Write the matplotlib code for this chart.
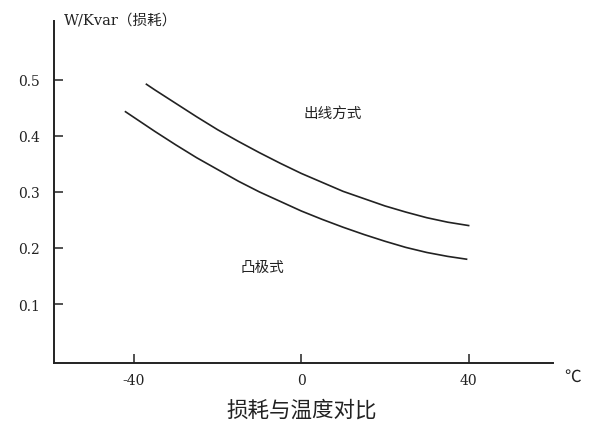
"""Loss vs. temperature comparison: two curves on a bare two-spine axis."""

import matplotlib

matplotlib.use("Agg")
import matplotlib.pyplot as plt

# Temperature (°C) and loss (W/Kvar).
TEMP_OUTLET = [-37, -35, -30, -25, -20, -15, -10, -5, 0,
               5, 10, 15, 20, 25, 30, 35, 40]
LOSS_OUTLET = [0.492, 0.482, 0.458, 0.434, 0.411, 0.390, 0.370, 0.351, 0.333,
               0.317, 0.301, 0.288, 0.275, 0.264, 0.254, 0.246, 0.240]

TEMP_SALIENT = [-42, -40, -35, -30, -25, -20, -15, -10, -5, 0,
                5, 10, 15, 20, 25, 30, 35, 39.5]
LOSS_SALIENT = [0.443, 0.433, 0.408, 0.384, 0.361, 0.340, 0.319, 0.300, 0.283, 0.266,
                0.251, 0.237, 0.224, 0.212, 0.201, 0.192, 0.185, 0.180]

X_TICKS = [-40, 0, 40]
Y_TICKS = [0.1, 0.2, 0.3, 0.4, 0.5]

INK = "#222222"
SERIF = ["DejaVu Serif", "Noto Sans CJK SC"]
CJK = ["Noto Sans CJK SC", "DejaVu Sans"]

fig = plt.figure(figsize=(6.09, 4.35), dpi=100)
ax = fig.add_axes([0.0879, 0.1625, 0.8204, 0.7865])

ax.plot(TEMP_OUTLET, LOSS_OUTLET, color=INK, linewidth=1.2)
ax.plot(TEMP_SALIENT, LOSS_SALIENT, color=INK, linewidth=1.2)

ax.set_xlim(-59.2, 60.2)
ax.set_ylim(-0.0057, 0.6045)

for side in ("top", "right"):
    ax.spines[side].set_visible(False)
for side in ("left", "bottom"):
    ax.spines[side].set_linewidth(1.4)
    ax.spines[side].set_color(INK)

ax.set_xticks(X_TICKS)
ax.set_xticklabels([f"{v:d}" for v in X_TICKS])
ax.set_yticks(Y_TICKS)
ax.set_yticklabels([f"{v:.1f}" for v in Y_TICKS])
ax.tick_params(direction="in", length=6.5, width=1.1, color=INK,
               labelcolor=INK, labelsize=10)
ax.tick_params(axis="y", pad=10)
ax.tick_params(axis="x", pad=7)
for lab in ax.get_xticklabels() + ax.get_yticklabels():
    lab.set_family(SERIF)

# axis captions and curve labels
fig.text(64 / 609, 1 - 20 / 435, "W/Kvar（损耗）", ha="left", va="center",
         fontsize=10.5, color=INK, family=SERIF)
fig.text(573 / 609, 1 - 377 / 435, "℃", ha="center", va="center",
         fontsize=12, color=INK, family=CJK)
fig.text(333 / 609, 1 - 114 / 435, "出线方式", ha="center", va="center",
         fontsize=10.5, color=INK, family=CJK)
fig.text(262 / 609, 1 - 268 / 435, "凸极式", ha="center", va="center",
         fontsize=10.5, color=INK, family=CJK)
fig.text(302 / 609, 1 - 411 / 435, "损耗与温度对比", ha="center", va="center",
         fontsize=15.5, color=INK, family=CJK)

fig.savefig("out.png", dpi=100)
